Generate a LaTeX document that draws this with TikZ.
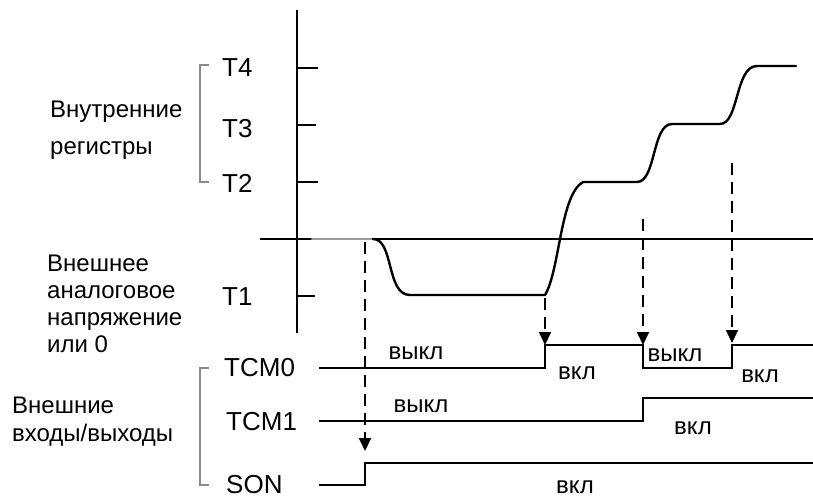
\documentclass[tikz,border=0pt]{standalone}
\usepackage{fontspec}
\setmainfont{Liberation Sans}
\usetikzlibrary{arrows.meta,positioning}
\definecolor{brgray}{HTML}{8A8A8A}
\definecolor{flatgray}{HTML}{9A9A9A}

\begin{document}
\begin{tikzpicture}[
    x=1pt,
    y=-1pt,
    font=\fontsize{24}{27}\selectfont,
    lvl/.style={inner sep=0pt, anchor=west, font=\fontsize{26}{28}\selectfont},
    onoff/.style={inner sep=0pt},
    grp/.style={inner sep=0pt, align=left, anchor=north west},
    axisline/.style={line width=1.8pt},
    wave/.style={line width=2.4pt, line join=round, line cap=round},
    sig/.style={line width=1.8pt},
    trig/.style={line width=1.8pt, dash pattern=on 12pt off 7pt, -{Triangle[length=13pt,width=12pt]}},
    brk/.style={line width=1.3pt, draw=brgray}
  ]
    \useasboundingbox (0,0) rectangle (813,498);

    % axes
    \draw[axisline] (297,10) -- (297,333);
    \draw[axisline] (260,239) -- (813,239);
    \foreach \ty/\tx in {68/318, 125/316, 182/318, 296/315}
      \draw[axisline] (297,\ty) -- (\tx,\ty);

    % level labels
    \node[lvl] (t4) at (222,68) {T4};
    \node[lvl] (t3) at (222,129) {T3};
    \node[lvl] (t2) at (222,183) {T2};
    \node[lvl] (t1) at (222,297) {T1};
    \node[lvl] (tcm0) at (224,368) {TCM0};
    \node[lvl] (tcm1) at (226,422) {TCM1};
    \node[lvl] (son) at (226,485) {SON};

    % group labels and brackets
    \node[grp, font=\fontsize{24}{37}\selectfont] (intreg) at (50,101) {Внутренние\\регистры};
    \node[grp] (extvolt) at (47,255) {Внешнее\\аналоговое\\напряжение\\или 0};
    \node[grp, font=\fontsize{24}{28}\selectfont] (extio) at (12,397) {Внешние\\входы/выходы};
    \draw[brk] (209,65) -- (200,65) -- (200,182) -- (209,182);
    \draw[brk] (209,368) -- (200,368) -- (200,485) -- (209,485);

    % analog value
    \draw[wave, draw=flatgray] (312,239) -- (373,239);
    \draw[wave] (373,239) .. controls (394,239) and (386,295) .. (410,295)
      -- (545,295) .. controls (560,270) and (560,195) .. (583,182)
      -- (637,182) .. controls (656,182) and (652,124) .. (672,124)
      -- (720,124) .. controls (739,124) and (735,66) .. (757,66)
      -- (796,66);

    % external signals
    \draw[sig] (319,368) -- (545,368) -- (545,345) -- (643,345) -- (643,368)
      -- (732,368) -- (732,345) -- (813,345);
    \draw[sig] (319,421) -- (643,421) -- (643,398) -- (813,398);
    \draw[sig] (319,485) -- (365,485) -- (365,463) -- (813,463);

    \node[onoff] (off0a) at (416,353) {выкл};
    \node[onoff] (on0a) at (577,373) {вкл};
    \node[onoff] (off0b) at (675,355) {выкл};
    \node[onoff] (on0b) at (760,376) {вкл};
    \node[onoff] (off1) at (421,406) {выкл};
    \node[onoff] (on1) at (693,428) {вкл};
    \node[onoff] (onson) at (575,487) {вкл};

    % triggers
    \coordinate (s1) at (365,242);
    \coordinate (e1) at (365,451);
    \coordinate (s2) at (545,298);
    \coordinate (e2) at (545,345);
    \coordinate (s3) at (643,219);
    \coordinate (e3) at (643,345);
    \coordinate (s4) at (732,163);
    \coordinate (e4) at (732,343);
    \draw[trig] (s1) -- (e1);
    \draw[trig] (s2) -- (e2);
    \draw[trig] (s3) -- (e3);
    \draw[trig] (s4) -- (e4);
\end{tikzpicture}
\end{document}
